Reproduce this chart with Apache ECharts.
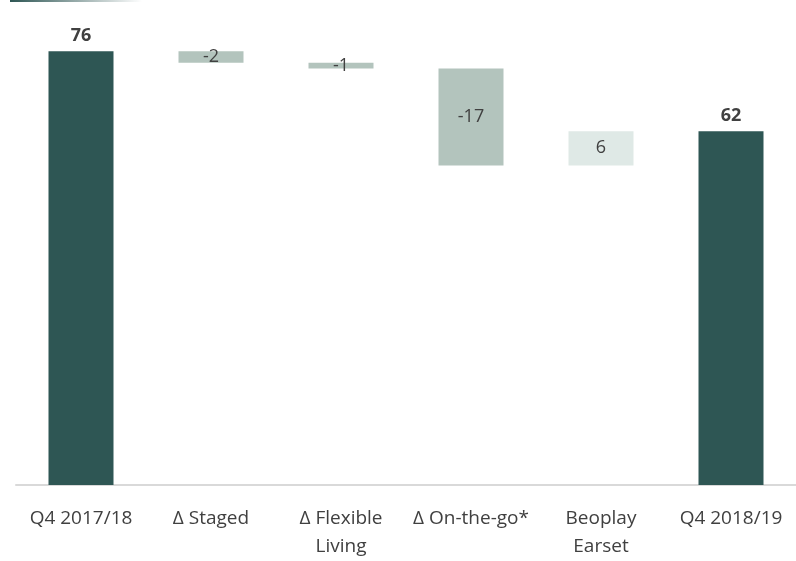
<!DOCTYPE html>
<html>
<head>
<meta charset="utf-8">
<script src="https://cdn.jsdelivr.net/npm/echarts@6/dist/echarts.min.js"></script>
<style>
  body { margin: 0; background: #fff; }
  #chart { width: 796px; height: 561px; }
</style>
</head>
<body>
<div id="chart"></div>
<script>
// waterfall data
const categories = ["Q4 2017/18", "Δ Staged", "Δ Flexible\nLiving", "Δ On-the-go*", "Beoplay\nEarset", "Q4 2018/19"];
const changes = [76, -2, -1, -17, 6, 62];
const isTotal = [true, false, false, false, false, true];

const darkColor = "#2e5654";
const negColor = "#b3c4bd";
const posColor = "#dfe9e6";
const textColor = "#404040";

// invisible base + visible part for each step
let running = 0;
const baseData = [];
const barData = [];
changes.forEach((v, i) => {
  if (isTotal[i]) {
    baseData.push(0);
    barData.push({
      value: v,
      itemStyle: { color: darkColor },
      label: { position: "top", distance: 6, fontWeight: "bold", formatter: String(v) }
    });
    running = v;
  } else {
    const next = running + v;
    baseData.push(Math.min(running, next));
    barData.push({
      value: Math.abs(v),
      itemStyle: { color: v < 0 ? negColor : posColor },
      label: { position: "inside", formatter: String(v) }
    });
    running = next;
  }
});

const chart = echarts.init(document.getElementById("chart"));
chart.setOption({
  animation: false,
  textStyle: { fontFamily: "Open Sans, Liberation Sans, sans-serif" },
  graphic: [{
    type: "rect",
    left: 10, top: 0,
    shape: { width: 132, height: 2 },
    style: {
      fill: new echarts.graphic.LinearGradient(0, 0, 1, 0, [
        { offset: 0, color: darkColor },
        { offset: 1, color: "rgba(46,86,84,0)" }
      ])
    }
  }],
  grid: { left: 16, right: 0, top: 0, bottom: 76 },
  xAxis: {
    type: "category",
    data: categories,
    axisTick: { show: false },
    axisLine: { lineStyle: { color: "#d9d9d9", width: 2 } },
    axisLabel: { color: textColor, fontSize: 19, lineHeight: 28, margin: 20, interval: 0 }
  },
  yAxis: {
    type: "value",
    min: 0, max: 85,
    show: false
  },
  series: [
    {
      type: "bar",
      stack: "w",
      data: baseData,
      barWidth: "50%",
      itemStyle: { color: "transparent" },
      silent: true
    },
    {
      type: "bar",
      stack: "w",
      data: barData,
      barWidth: "50%",
      label: { show: true, color: textColor, fontSize: 18 }
    }
  ]
});
</script>
</body>
</html>
